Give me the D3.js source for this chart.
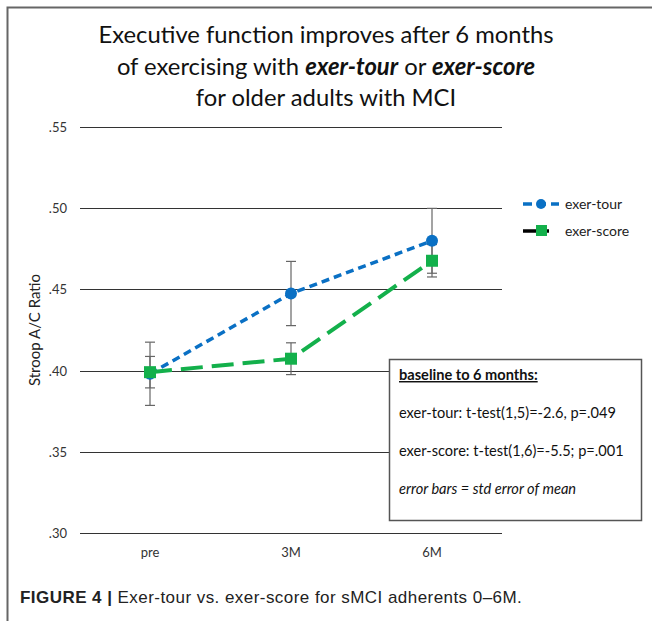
<!DOCTYPE html>
<html>
<head>
<meta charset="utf-8">
<script src="https://cdn.jsdelivr.net/npm/d3@7"></script>
<style>
  body { margin: 0; background: #fff; }
  text { font-family: Lato, "Open Sans", sans-serif; }
</style>
</head>
<body>
<script>
var categories = ["pre", "3M", "6M"];
var tourValues = [0.398, 0.4475, 0.480];
var tourErrors = [0.0195, 0.0198, 0.020];
var scoreValues = [0.399, 0.4073, 0.4677];
var scoreErrors = [0.0097, 0.0098, 0.0100];
var yTicks = [0.30, 0.35, 0.40, 0.45, 0.50, 0.55];
var tickLabels = [".30", ".35", ".40", ".45", ".50", ".55"];

var w = 652, h = 621;
var blue = "#0a70c4", green = "#13b04b";

var svg = d3.select("body").append("svg")
    .attr("width", w)
    .attr("height", h);

// outer frame
svg.append("path")
    .attr("d", "M7.5,621 L7.5,7.5 L652,7.5")
    .attr("fill", "none")
    .attr("stroke", "#666")
    .attr("stroke-width", 2);

// title
var title = svg.append("text")
    .attr("text-anchor", "middle")
    .style("font-size", "23.8px")
    .style("fill", "#111");
title.append("tspan").attr("x", 326).attr("y", 43).text("Executive function improves after 6 months");
var t2 = title.append("tspan").attr("x", 326).attr("y", 75);
t2.append("tspan").text("of exercising with ");
t2.append("tspan").style("font-weight", "bold").style("font-style", "italic").text("exer-tour");
t2.append("tspan").text(" or ");
t2.append("tspan").style("font-weight", "bold").style("font-style", "italic").text("exer-score");
title.append("tspan").attr("x", 326).attr("y", 106).text("for older adults with MCI");

var x = d3.scalePoint()
    .domain(categories)
    .range([150, 432]);

var y = d3.scaleLinear()
    .domain([0.30, 0.55])
    .range([532.7, 127.3]);

// grid lines
svg.selectAll(".grid")
    .data(yTicks)
    .enter()
    .append("line")
    .attr("x1", 80)
    .attr("x2", 502)
    .attr("y1", function(d){ return Math.round(y(d)) + 0.5; })
    .attr("y2", function(d){ return Math.round(y(d)) + 0.5; })
    .style("stroke", "#333")
    .style("stroke-width", 1);

svg.selectAll(".ytick")
    .data(yTicks)
    .enter()
    .append("text")
    .attr("x", 67)
    .attr("y", function(d){ return y(d) + 5; })
    .attr("text-anchor", "end")
    .style("font-size", "13px")
    .style("fill", "#333")
    .text(function(d, i){ return tickLabels[i]; });

svg.selectAll(".xtick")
    .data(categories)
    .enter()
    .append("text")
    .attr("x", function(d){ return x(d); })
    .attr("y", 557)
    .attr("text-anchor", "middle")
    .style("font-size", "13px")
    .style("fill", "#333")
    .text(function(d){ return d; });

svg.append("text")
    .attr("transform", "translate(40,330) rotate(-90)")
    .attr("text-anchor", "middle")
    .style("font-size", "15px")
    .style("fill", "#222")
    .text("Stroop A/C Ratio");

// annotation box
svg.append("rect")
    .attr("x", 389.5).attr("y", 359.5)
    .attr("width", 252).attr("height", 161)
    .style("fill", "#fff")
    .style("stroke", "#555")
    .style("stroke-width", 1.5);

var boxFont = "14.6px";
svg.append("text").attr("x", 399).attr("y", 380)
    .style("font-size", boxFont).style("font-weight", "bold")
    .style("text-decoration", "underline").style("fill", "#111")
    .text("baseline to 6 months:");
svg.append("text").attr("x", 399).attr("y", 418)
    .style("font-size", boxFont).style("fill", "#111")
    .text("exer-tour: t-test(1,5)=-2.6, p=.049");
svg.append("text").attr("x", 399).attr("y", 456)
    .style("font-size", boxFont).style("fill", "#111")
    .text("exer-score: t-test(1,6)=-5.5; p=.001");
svg.append("text").attr("x", 399).attr("y", 494)
    .style("font-size", boxFont).style("font-style", "italic").style("fill", "#111")
    .text("error bars = std error of mean");

// error bars
function errorBars(vals, errs) {
    var g = svg.append("g").style("stroke", "#666").style("stroke-width", 1.2);
    vals.forEach(function(v, i){
        var cx = x(categories[i]);
        g.append("line").attr("x1", cx).attr("x2", cx)
            .attr("y1", y(v + errs[i])).attr("y2", y(v - errs[i]));
        [v + errs[i], v - errs[i]].forEach(function(e){
            g.append("line").attr("x1", cx - 5).attr("x2", cx + 5)
                .attr("y1", y(e)).attr("y2", y(e));
        });
    });
}
errorBars(tourValues, tourErrors);
errorBars(scoreValues, scoreErrors);

var line = d3.line()
    .x(function(d, i){ return x(categories[i]); })
    .y(function(d){ return y(d); });

svg.append("path")
    .datum(tourValues)
    .attr("d", line)
    .style("fill", "none")
    .style("stroke", blue)
    .style("stroke-width", 3.5)
    .style("stroke-dasharray", "8,5");

svg.append("path")
    .datum(scoreValues)
    .attr("d", line)
    .style("fill", "none")
    .style("stroke", green)
    .style("stroke-width", 4)
    .style("stroke-dasharray", "22,9");

svg.selectAll(".tourpt")
    .data(tourValues)
    .enter()
    .append("circle")
    .attr("cx", function(d, i){ return x(categories[i]); })
    .attr("cy", function(d){ return y(d); })
    .attr("r", 6)
    .style("fill", blue);

svg.selectAll(".scorept")
    .data(scoreValues)
    .enter()
    .append("rect")
    .attr("x", function(d, i){ return x(categories[i]) - 6; })
    .attr("y", function(d){ return y(d) - 6; })
    .attr("width", 12)
    .attr("height", 12)
    .style("fill", green);

// legend
svg.append("line").attr("x1", 523).attr("x2", 559).attr("y1", 204).attr("y2", 204)
    .style("stroke", blue).style("stroke-width", 3.5).style("stroke-dasharray", "9,5");
svg.append("circle").attr("cx", 541).attr("cy", 204).attr("r", 5).style("fill", blue);
svg.append("text").attr("x", 565).attr("y", 209)
    .style("font-size", "14px").style("fill", "#222").text("exer-tour");

svg.append("line").attr("x1", 523).attr("x2", 549).attr("y1", 231).attr("y2", 231)
    .style("stroke", "#000").style("stroke-width", 3.5);
svg.append("rect").attr("x", 536).attr("y", 225).attr("width", 11).attr("height", 11).style("fill", green);
svg.append("text").attr("x", 565).attr("y", 236)
    .style("font-size", "14px").style("fill", "#222").text("exer-score");

// caption
var cap = svg.append("text")
    .attr("x", 20).attr("y", 603)
    .style("font-family", "'Liberation Sans', Arial, sans-serif")
    .style("font-size", "17px")
    .style("letter-spacing", "0.45px")
    .style("fill", "#222");
cap.append("tspan").style("font-weight", "bold").text("FIGURE 4 | ");
cap.append("tspan").text("Exer-tour vs. exer-score for sMCI adherents 0\u20136M.");
</script>
</body>
</html>
